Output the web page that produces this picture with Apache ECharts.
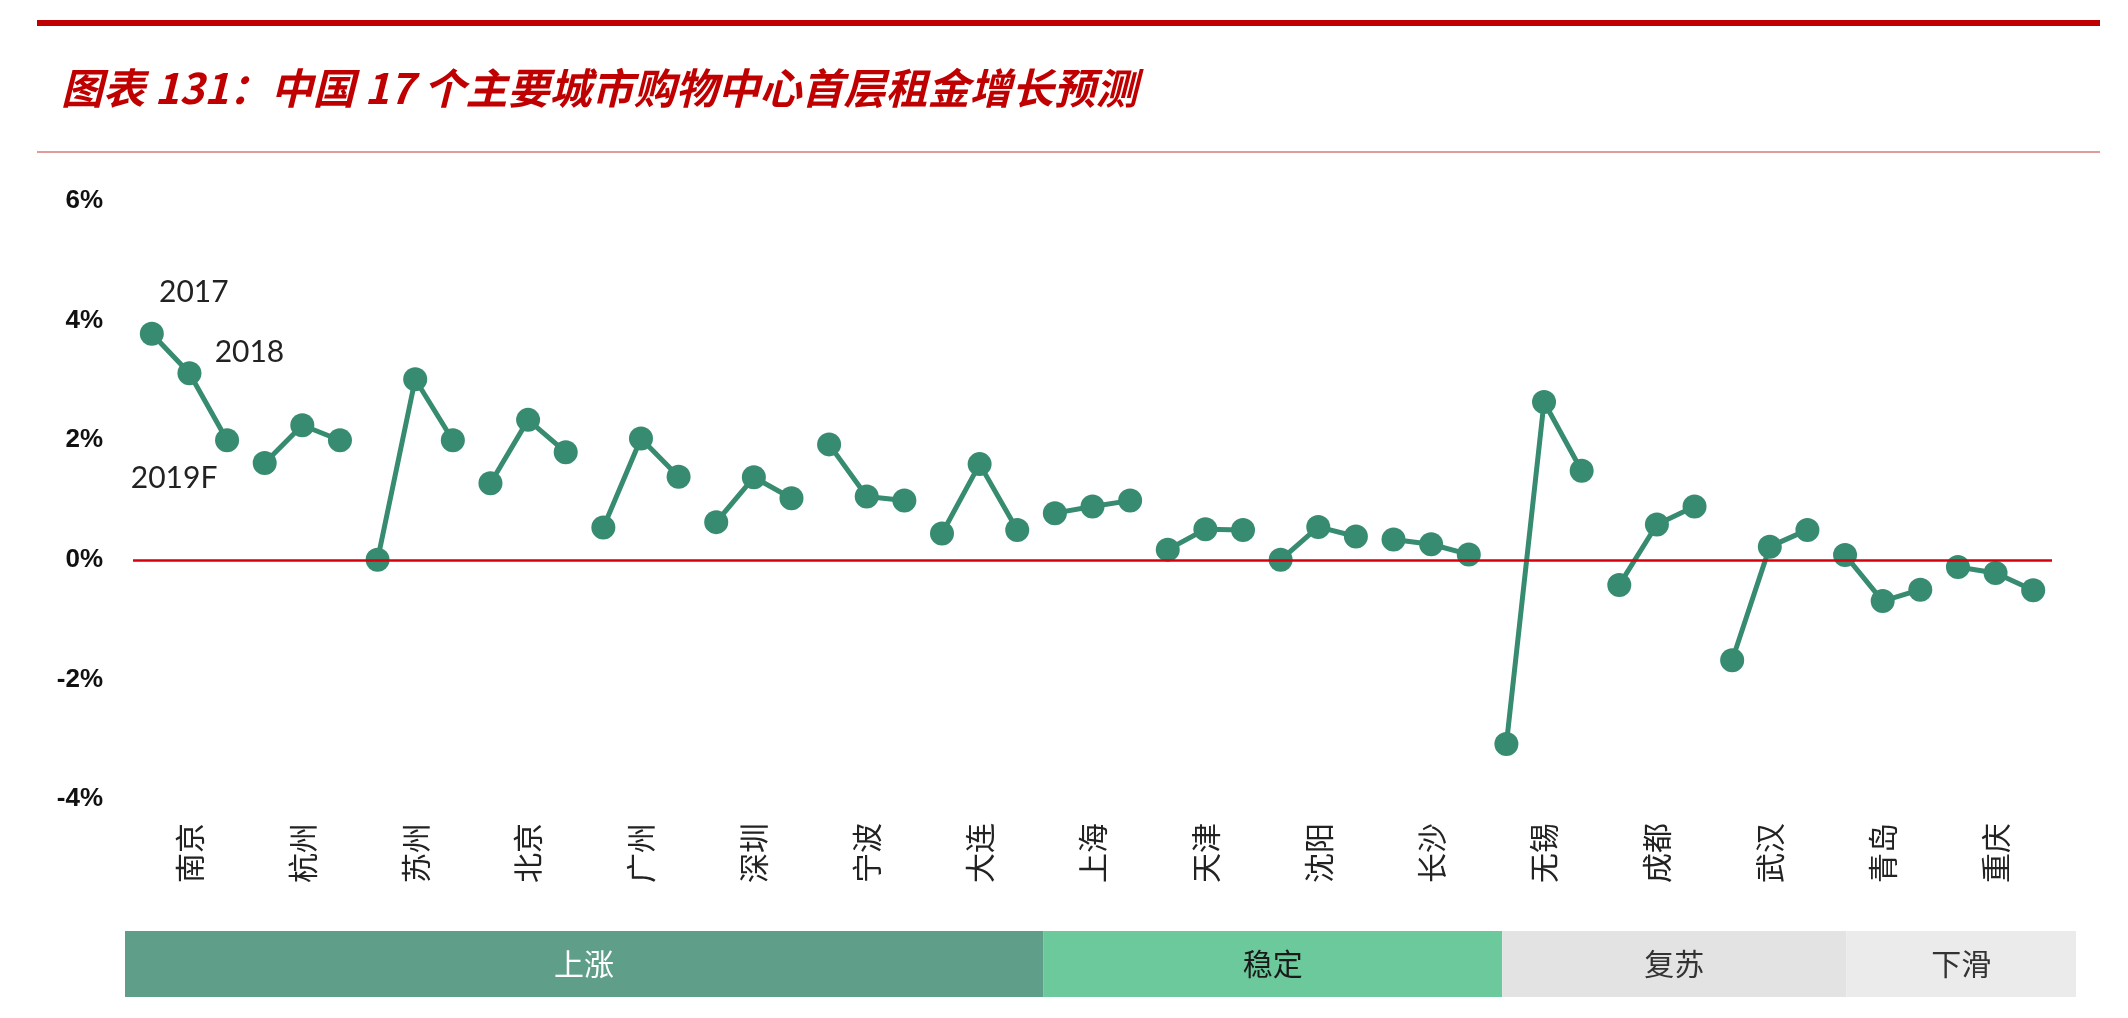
<!DOCTYPE html>
<html lang="zh">
<head>
   <meta charset="UTF-8">
   <title>中国17个主要城市购物中心首层租金增长预测</title>
   <script type="text/javascript" src="https://cdn.jsdelivr.net/npm/echarts@6/dist/echarts.min.js"></script>
   <style>
      html, body { margin: 0; padding: 0; background: #fff; }
      #container { width: 2128px; height: 1018px; }
   </style>
</head>
<body>
   <div id="container"></div>

   <script>
      // 城市及三年的租金增长（%）
      var cities = ['南京', '杭州', '苏州', '北京', '广州', '深圳', '宁波', '大连', '上海',
         '天津', '沈阳', '长沙', '无锡', '成都', '武汉', '青岛', '重庆'];
      var years = ['2017', '2018', '2019F'];
      var v2017 = [3.78, 1.62, 0.00, 1.28, 0.54, 0.63, 1.93, 0.44, 0.78, 0.17, 0.00, 0.34, -3.08, -0.42, -1.68, 0.08, -0.12];
      var v2018 = [3.12, 2.25, 3.02, 2.34, 2.03, 1.38, 1.06, 1.60, 0.89, 0.51, 0.55, 0.26, 2.64, 0.59, 0.22, -0.69, -0.22];
      var v2019 = [2.00, 2.00, 2.00, 1.80, 1.39, 1.03, 0.99, 0.50, 0.99, 0.50, 0.39, 0.09, 1.49, 0.89, 0.50, -0.50, -0.51];

      // 底部分组（城市个数）
      var bandNames = ['上涨', '稳定', '复苏', '下滑'];
      var bandCounts = [8, 4, 3, 2];
      var bandColors = ['#5f9f8a', '#6cc99c', '#e3e3e3', '#ebebeb'];
      var bandTextColors = ['#ffffff', '#1a1a1a', '#333333', '#333333'];

      var yTicks = { min: -4, max: 6, interval: 2 };

      var green = '#378b70';

      // 每个城市占三个类目位置
      var slots = [];
      cities.forEach(function (c) {
         years.forEach(function (y) { slots.push(c + '|' + y); });
      });

      // 南京三个点上标注年份
      var yearLabelOffsets = [[42, -41], [60, -21], [-53, 38]];

      var series = [];
      cities.forEach(function (c, i) {
         var vals = [v2017[i], v2018[i], v2019[i]];
         var data = vals.map(function (v, k) {
            var item = { value: [i * 3 + k, v] };
            if (i === 0) {
               item.label = {
                  show: true,
                  formatter: years[k],
                  position: 'inside',
                  offset: yearLabelOffsets[k],
                  fontSize: 30,
                  color: '#222',
                  fontFamily: 'Lato, "Noto Sans", sans-serif'
               };
            }
            return item;
         });
         var s = {
            name: c,
            type: 'line',
            xAxisIndex: 0,
            yAxisIndex: 0,
            data: data,
            symbol: 'circle',
            symbolSize: 24,
            itemStyle: { color: green },
            lineStyle: { color: green, width: 5 },
            label: { show: false }
         };
         if (i === 0) {
            s.markLine = {
               silent: true,
               symbol: ['none', 'none'],
               label: { show: false },
               lineStyle: { color: '#d9000d', width: 2.5, type: 'solid' },
               data: [{ yAxis: 0 }]
            };
         }
         series.push(s);
      });

      bandNames.forEach(function (b, i) {
         series.push({
            name: b,
            type: 'bar',
            xAxisIndex: 1,
            yAxisIndex: 1,
            stack: 'band',
            barWidth: 66,
            data: [bandCounts[i]],
            itemStyle: { color: bandColors[i] },
            label: {
               show: true,
               position: 'inside',
               formatter: b,
               fontSize: 30,
               color: bandTextColors[i],
               fontFamily: '"Noto Sans CJK SC", sans-serif'
            }
         });
      });

      var chart = echarts.init(document.getElementById('container'));
      var option = {
         animation: false,
         backgroundColor: '#ffffff',
         title: {
            text: '图表 131：中国 17 个主要城市购物中心首层租金增长预测',
            left: 61,
            top: 66,
            padding: 0,
            textStyle: {
               color: '#c00000',
               fontSize: 42,
               lineHeight: 44,
               fontStyle: 'italic',
               fontWeight: 'bold',
               fontFamily: '"Noto Sans CJK SC", sans-serif'
            }
         },
         graphic: [
            { type: 'rect', shape: { x: 37, y: 20, width: 2063, height: 6 }, style: { fill: '#c00000' } },
            { type: 'rect', shape: { x: 37, y: 151, width: 2063, height: 2 }, style: { fill: '#e29a9a' } }
         ],
         grid: [
            { left: 133, right: 76, top: 201, bottom: 219 },
            { left: 125, right: 52, top: 931, height: 66 }
         ],
         xAxis: [
            {
               type: 'category',
               gridIndex: 0,
               data: slots,
               boundaryGap: true,
               axisLine: { show: false, onZero: false },
               axisTick: { show: false },
               splitLine: { show: false },
               axisLabel: {
                  interval: 0,
                  rotate: 90,
                  margin: 24,
                  fontSize: 30,
                  color: '#222',
                  fontFamily: '"Noto Sans CJK SC", sans-serif',
                  formatter: function (v) {
                     var p = v.split('|');
                     return p[1] === '2018' ? p[0] : '';
                  }
               }
            },
            {
               type: 'value',
               gridIndex: 1,
               min: 0,
               max: 17,
               show: false
            }
         ],
         yAxis: [
            {
               type: 'value',
               gridIndex: 0,
               min: yTicks.min,
               max: yTicks.max,
               interval: yTicks.interval,
               axisLine: { show: false },
               axisTick: { show: false },
               splitLine: { show: false },
               axisLabel: {
                  margin: 30,
                  fontSize: 26,
                  fontWeight: 'bold',
                  color: '#111',
                  fontFamily: '"Liberation Sans", Arial, sans-serif',
                  formatter: '{value}%'
               }
            },
            {
               type: 'category',
               gridIndex: 1,
               data: ['band'],
               show: false
            }
         ],
         series: series
      };
      chart.setOption(option);
   </script>
</body>
</html>
